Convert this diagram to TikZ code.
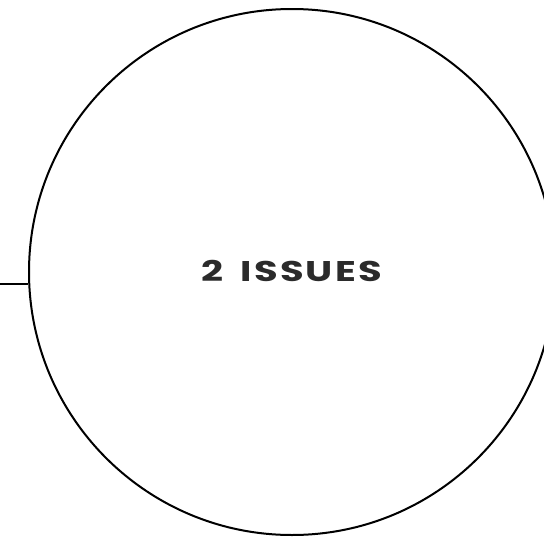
\documentclass[tikz,border=0pt]{standalone}
\usepackage{fontspec}
\newfontfamily\issuefont[FakeStretch=1.35,LetterSpace=8,WordSpace=1.6]{Poppins Bold}
\definecolor{issuegrey}{HTML}{2B2B2B}
\tikzset{
  ring/.style={circle, draw=black, line width=2pt, inner sep=0pt},
  stubline/.style={draw=black, line width=2pt}
}
\begin{document}
\begin{tikzpicture}[x=1pt,y=-1pt]
% Canvas: 544 x 538, y grows downwards
\useasboundingbox (0,0) rectangle (544,538);

% Circle centre and radius
\def\cx{292}
\def\cy{272}
\def\rr{263}

% Big circle with its label
\node[ring, minimum size=2*\rr pt, text=issuegrey,
      font=\issuefont\fontsize{28.5}{30}\selectfont] (issues) at (\cx,\cy) {\raisebox{2pt}{2 ISSUES}};

% Short line coming in from the left edge
\coordinate (stub) at (0,284);
\draw[stubline] (stub) -- (stub -| issues.west);
\end{tikzpicture}
\end{document}
